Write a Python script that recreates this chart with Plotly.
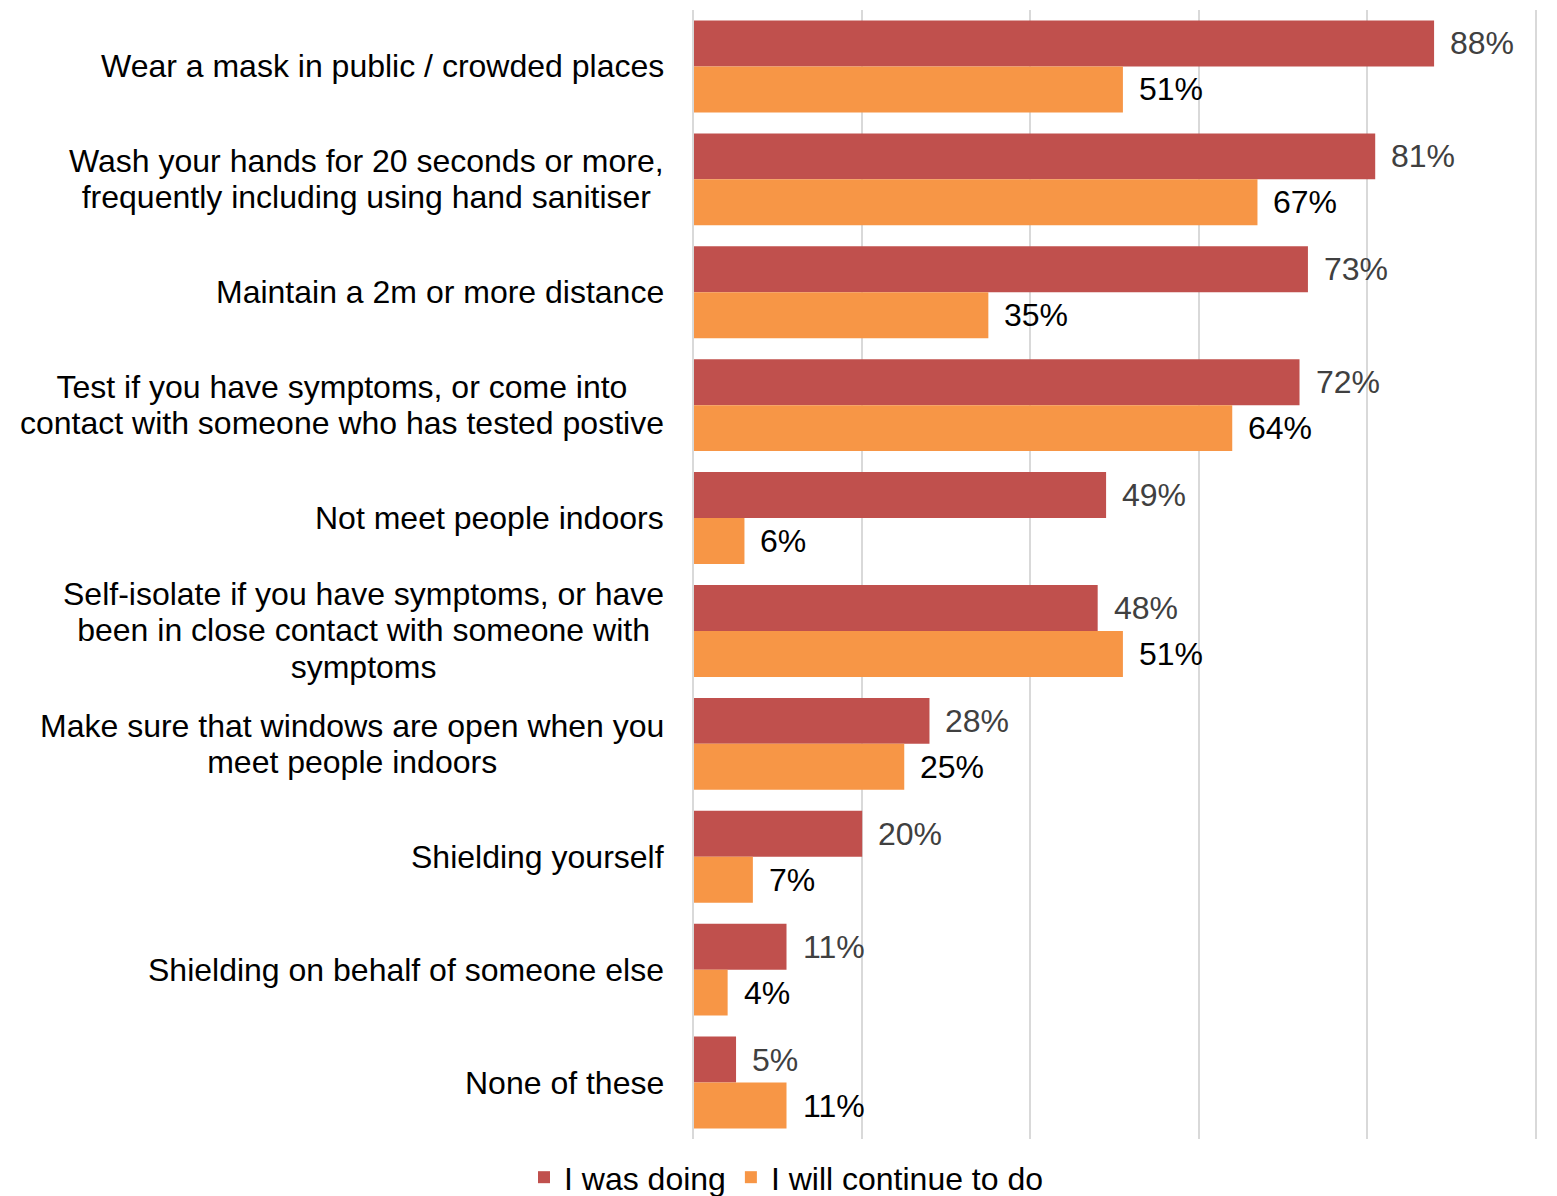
import plotly.graph_objects as go

categories = [
    "Wear a mask in public / crowded places",
    "Wash your hands for 20 seconds or more,\nfrequently including using hand sanitiser",
    "Maintain a 2m or more distance",
    "Test if you have symptoms, or come into\ncontact with someone who has tested postive",
    "Not meet people indoors",
    "Self-isolate if you have symptoms, or have\nbeen in close contact with someone with\nsymptoms",
    "Make sure that windows are open when you\nmeet people indoors",
    "Shielding yourself",
    "Shielding on behalf of someone else",
    "None of these",
]
was_doing = [88, 81, 73, 72, 49, 48, 28, 20, 11, 5]
will_continue = [51, 67, 35, 64, 6, 51, 25, 7, 4, 11]

series_names = ["I was doing", "I will continue to do"]
colors = ["#C0504D", "#F79646"]
label_colors = ["#404040", "#000000"]

FONT = "Arial, Liberation Sans, sans-serif"
FS = 32
GRID = "#D9D9D9"

keys = [str(i) for i in range(len(categories))]

fig = go.Figure()
for name, vals, col in zip(series_names, [was_doing, will_continue], colors):
    fig.add_trace(go.Bar(
        y=keys, x=vals, orientation="h", name=name,
        marker=dict(color=col, line=dict(width=0)),
        hoverinfo="skip",
    ))

annotations = []
# value labels just past the end of each bar
for vals, lc, shift in zip([was_doing, will_continue], label_colors, [23, -23]):
    for k, v in zip(keys, vals):
        annotations.append(dict(
            x=v, y=k, xref="x", yref="y", text=f"{v}%",
            showarrow=False, xanchor="left", yanchor="middle",
            xshift=14, yshift=shift,
            font=dict(family=FONT, size=FS, color=lc),
        ))

# category labels, centred line by line
for k, cat in zip(keys, categories):
    lines = cat.split("\n")
    txt = "<br>".join(f"<span style='font-size:{FS}px'>{ln}</span>" for ln in lines)
    annotations.append(dict(
        x=0, y=k, xref="paper", yref="y", text=txt,
        showarrow=False, xanchor="right", yanchor="middle", align="center",
        xshift=-28,
        font=dict(family=FONT, size=28, color="#000000"),
    ))

fig.update_layout(
    width=1557, height=1196,
    margin=dict(l=694, r=22, t=10, b=57, autoexpand=False),
    paper_bgcolor="white", plot_bgcolor="white",
    barmode="group", bargap=0.186, bargroupgap=0,
    font=dict(family=FONT, size=FS, color="#000000"),
    xaxis=dict(range=[0, 100], dtick=20, showticklabels=False,
               showgrid=True, gridcolor=GRID, gridwidth=2,
               zeroline=False, showline=False, fixedrange=True),
    yaxis=dict(autorange="reversed", showticklabels=False, showgrid=False,
               zeroline=False, showline=True, linecolor=GRID, linewidth=2,
               mirror=True, ticks=""),
    showlegend=True,
    legend=dict(orientation="h", x=0.11, xanchor="center", y=-0.034,
                yanchor="middle", font=dict(family=FONT, size=FS, color="#000000"),
                itemwidth=30, traceorder="normal", bgcolor="rgba(0,0,0,0)"),
    annotations=annotations,
)

fig.write_html("out.html")
